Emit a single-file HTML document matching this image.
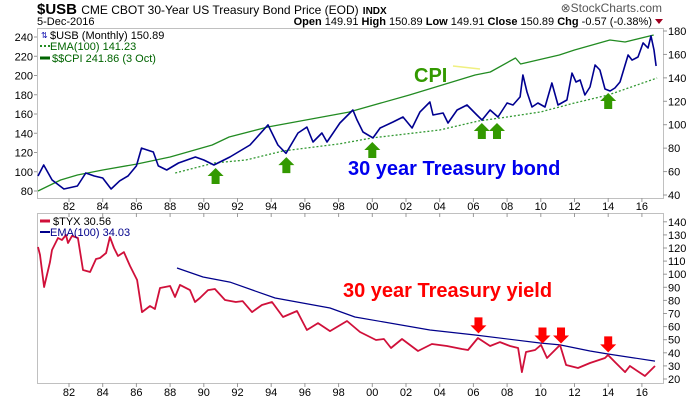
<!DOCTYPE html>
<html><head><meta charset="utf-8"><style>
body{margin:0;background:#fff;width:700px;height:400px;overflow:hidden;font-family:"Liberation Sans",sans-serif}
svg text{font-family:"Liberation Sans",sans-serif}
</style></head><body>
<svg id="c" width="700" height="400" xmlns="http://www.w3.org/2000/svg">
<g>
<text x="37" y="14" font-size="15" font-weight="bold">$USB <tspan font-size="12" font-weight="normal">CME CBOT 30-Year US Treasury Bond Price (EOD)</tspan> <tspan font-size="10">INDX</tspan></text>
<text x="37" y="25" font-size="11">5-Dec-2016</text>
<text x="652" y="25" font-size="11" text-anchor="end"><tspan font-weight="bold">Open</tspan> 149.91 <tspan font-weight="bold">High</tspan> 150.89 <tspan font-weight="bold">Low</tspan> 149.91 <tspan font-weight="bold">Close</tspan> 150.89 <tspan font-weight="bold">Chg</tspan> -0.57 (-0.38%)</text>
<polygon points="655,19 663,19 659,24" fill="#a00020"/>
<text x="662" y="12" font-size="12" fill="#555" text-anchor="end">⊗StockCharts.com</text>
</g>
<rect x="37.5" y="28.5" width="626" height="170" fill="none" stroke="#c0c0c0"/>
<rect x="37.5" y="213.5" width="626" height="170" fill="none" stroke="#c0c0c0"/>
<g id="axes"></g>
<g id="series"></g>
<g>
<text x="41" y="38" font-size="8" fill="#0000aa">⇅</text>
<text x="50" y="39" font-size="11" font-family="Liberation Mono">$USB (Monthly) 150.89</text>
<line x1="40" y1="46" x2="50" y2="46" stroke="#228b22" stroke-width="2" stroke-dasharray="2,2"/>
<text x="50" y="50" font-size="11" fill="#006400">EMA(100) 141.23</text>
<line x1="40" y1="58" x2="50" y2="58" stroke="#006400" stroke-width="3"/>
<text x="52" y="62" font-size="11" fill="#006400">$$CPI 241.86 (3 Oct)</text>
</g>
<g>
<line x1="40" y1="221" x2="50" y2="221" stroke="#d0103a" stroke-width="3"/>
<text x="53" y="225" font-size="11" font-family="Liberation Mono">$TYX 30.56</text>
<line x1="40" y1="232" x2="50" y2="232" stroke="#00008b" stroke-width="2"/>
<text x="50" y="236" font-size="11" fill="#00008b">EMA(100) 34.03</text>
</g>
<line x1="453" y1="66" x2="480" y2="69" stroke="#f0f080" stroke-width="1.5"/>
<g id="arrows"></g>
<text x="414" y="82" font-size="20" font-weight="bold" fill="#339900">CPI</text>
<text x="348" y="175" font-size="20" font-weight="bold" fill="#0000ee">30 year Treasury bond</text>
<text x="343" y="297" font-size="20" font-weight="bold" fill="#ff0000">30 year Treasury yield</text>
</svg>
<script>
// ---- data ----
const usbYears=[1980.16,1980.5,1981,1981.7,1982.5,1983,1983.5,1984,1984.5,1985,1985.5,1986,1986.3,1987,1987.3,1987.8,1988.5,1989.5,1990,1990.6,1991.55,1992.74,1993.81,1994.4,1994.88,1995.59,1996.12,1996.48,1997.01,1997.31,1998.08,1998.85,1999.09,1999.45,2000.04,2000.46,2001.23,2001.82,2002.36,2002.83,2003.42,2003.6,2004.2,2004.49,2005.03,2005.62,2006.21,2006.51,2006.99,2007.46,2008.0,2008.35,2008.77,2008.94,2009.18,2009.48,2009.83,2010.25,2010.66,2011.02,2011.55,2011.85,2012.09,2012.33,2012.62,2012.92,2013.22,2013.51,2013.81,2014.11,2014.4,2014.7,2015.0,2015.18,2015.42,2015.77,2016.07,2016.36,2016.54,2016.72,2016.84];
const usbValues=[56.2,65.6,52.8,45.1,47.7,58.8,56.2,54.5,45.1,52,56.2,64.8,80,76.7,64.8,61.3,67.3,72.4,69.9,65.6,72.4,82.7,99.8,82.7,75.6,92.9,98,85.2,92.9,85.2,101.5,112.6,104.1,93.8,88.7,97.2,102.3,106.6,97.2,110.9,119.4,108.3,110,101.5,112.6,116.8,108.3,104,112.6,106.6,118.5,116.8,123.7,142.4,127.9,115.1,118.5,115.1,135.6,116.8,121.1,144.1,136.5,138.2,125.4,132.2,151,146.7,130.5,128.8,131.3,136.5,151,159.5,155.2,157.8,169.8,165.5,175.7,163.8,150.1];
const usbEmaYears=[1988.3,1990.6,1992.5,1994.7,1998,2000,2004,2006.3,2008,2010,2012,2014,2016.9];
const usbEmaValues=[58.8,67.3,69.9,77.6,83.5,88.7,95.5,103.2,106.6,110.9,118.5,125.4,139.9];
const cpiYears=[1980.16,1981.5,1982.5,1984,1986,1988,1990.5,1991.5,1993.8,1998.6,2002.2,2006.1,2007,2008.5,2008.8,2011.1,2012,2014.1,2015,2016.7];
const cpiValues=[80,91.4,96.6,101.8,108,115.3,127.8,136.1,146.5,162,179.7,200.5,203.6,218.2,212,221.3,226.5,236.9,234.8,242.1];
const tyxYears=[1980.16,1980.28,1980.52,1980.87,1980.99,1981.35,1981.58,1981.82,1981.94,1982.18,1982.53,1982.83,1983.25,1983.6,1983.84,1984.2,1984.43,1984.67,1984.91,1985.26,1985.62,1986.04,1986.33,1986.81,1987.1,1987.4,1988.0,1988.29,1988.59,1989.18,1989.48,1989.77,1990.25,1990.66,1991.26,1991.9,1992.3,1992.86,1993.45,1994.05,1994.7,1995.53,1996.12,1996.78,1997.49,1998.5,1999.27,2000.22,2000.69,2001.11,2001.76,2002.71,2003.54,2004.43,2005.32,2005.68,2006.27,2006.99,2007.58,2008.17,2008.65,2008.88,2009.12,2009.66,2010.01,2010.37,2011.02,2011.14,2011.5,2012.21,2012.92,2013.81,2013.99,2014.4,2015.0,2015.29,2016.18,2016.78];
const tyxValues=[120.8,114.7,90.2,109.3,118.5,127.6,126.1,129.9,123.8,129.2,127.6,103.2,101.7,111.6,112.4,116.2,128.4,120,113.9,116.9,106.3,95.6,71.1,75.7,73.4,89.5,91,82.6,91.8,87.9,78.8,81.8,87.9,88.7,80.3,78.8,79.5,71.1,76.5,78.8,67.3,71.9,57.4,62.7,56.6,64.3,55.9,49.8,50.5,43.7,50.5,41.4,46.7,45.2,42.9,42.1,51.3,45.2,48.2,45.2,43.7,25.3,40.6,42.1,46,36,44.4,46,30.7,28.4,32.2,36,38.3,33,25.3,29.9,22.3,29.9];
const tyxEmaYears=[1988.41,1989.95,1991.55,1994.23,1997.49,1998.97,2003.42,2006.1,2009.95,2011.14,2012.92,2013.99,2016.78];
const tyxEmaValues=[104.7,97.9,94,81.8,74.2,67.3,57.4,53.6,47.5,46,41.4,39.1,33.7];
const yearTicks=[82,84,86,88,90,92,94,96,98,0,2,4,6,8,10,12,14,16];
const leftTicks=[80,100,120,140,160,180,200,220,240];
const rightTopTicks=[40,60,80,100,120,140,160,180];
const rightBotTicks=[20,30,40,50,60,70,80,90,100,110,120,130,140];
const upArrowYears=[1990.7,1994.9,2000,2006.5,2007.4,2014];
const upArrowValues=[64.8,74,87,103.2,103.2,128.8];
const downArrowYears=[2006.3,2010.1,2011.2,2014];
const downArrowValues=[53.3,45.6,45.6,38.8];
// ---- scales ----
const X=yr=>69+(yr-1982)*16.85;
const YL=v=>191-(v-80)*0.9625;
const YR=v=>31+(180-v)*1.1714;
const YB=v=>379-(v-20)*1.31;
const NS='http://www.w3.org/2000/svg';
function mk(tag,at,parent){const e=document.createElementNS(NS,tag);for(const k in at)e.setAttribute(k,at[k]);document.getElementById(parent).appendChild(e);return e;}
const ax='axes';
yearTicks.forEach(t=>{const yr=t<50?2000+t:1900+t;const x=X(yr);const lab=t<10?'0'+t:''+t;
 let e=mk('text',{x:x,y:210,'font-size':11,'text-anchor':'middle'},ax);e.textContent=lab;
 
 
 e=mk('text',{x:x,y:396,'font-size':11,'text-anchor':'middle'},ax);e.textContent=lab;
 
 
 mk('line',{x1:x,x2:x,y1:198,y2:202,stroke:'#999'},ax);
 mk('line',{x1:x,x2:x,y1:213,y2:217,stroke:'#999'},ax);
 mk('line',{x1:x,x2:x,y1:383,y2:387,stroke:'#999'},ax);
});
leftTicks.forEach(v=>{const y=YL(v);const e=mk('text',{x:33,y:y+4,'font-size':11,'text-anchor':'end'},ax);e.textContent=v;
 
 
 mk('line',{x1:34,x2:37,y1:y,y2:y,stroke:'#999'},ax);});
rightTopTicks.forEach(v=>{const y=YR(v);const e=mk('text',{x:668,y:y+4,'font-size':11},ax);e.textContent=v;
 
 
 mk('line',{x1:663,x2:667,y1:y,y2:y,stroke:'#999'},ax);});
rightBotTicks.forEach(v=>{const y=YB(v);const e=mk('text',{x:668,y:y+4,'font-size':11},ax);e.textContent=v;
 
 
 mk('line',{x1:663,x2:667,y1:y,y2:y,stroke:'#999'},ax);});
function line(xs,vs,Y,at,name){const d=xs.map((x,i)=>(i?'L':'M')+X(x).toFixed(1)+','+Y(vs[i]).toFixed(1)).join('');
 const p=mk('path',Object.assign({d:d,fill:'none','stroke-linejoin':'round'},at),'series');
 
 }
line(cpiYears,cpiValues,YL,{stroke:'#228b22','stroke-width':1.3},'cpi-line');
line(usbEmaYears,usbEmaValues,YR,{stroke:'#339933','stroke-width':1.3,'stroke-dasharray':'2,2'},'usb-ema-line');
line(usbYears,usbValues,YR,{stroke:'#000090','stroke-width':1.6},'usb-price-line');
line(tyxEmaYears,tyxEmaValues,YB,{stroke:'#00008b','stroke-width':1.2},'tyx-ema-line');
line(tyxYears,tyxValues,YB,{stroke:'#d0103a','stroke-width':1.8},'tyx-line');
upArrowYears.forEach((yr,i)=>{const x=X(yr),y=YR(upArrowValues[i])+2;
 const p=mk('polygon',{points:`${x},${y} ${x+8},${y+8} ${x+4},${y+8} ${x+4},${y+16} ${x-4},${y+16} ${x-4},${y+8} ${x-8},${y+8}`,fill:'#339900'},'arrows');
 
 });
downArrowYears.forEach((yr,i)=>{const x=X(yr),y=YB(downArrowValues[i])-2;
 const p=mk('polygon',{points:`${x},${y} ${x+8},${y-8} ${x+4},${y-8} ${x+4},${y-16} ${x-4},${y-16} ${x-4},${y-8} ${x-8},${y-8}`,fill:'#ff0000'},'arrows');
 
 });
</script>
</body></html>
